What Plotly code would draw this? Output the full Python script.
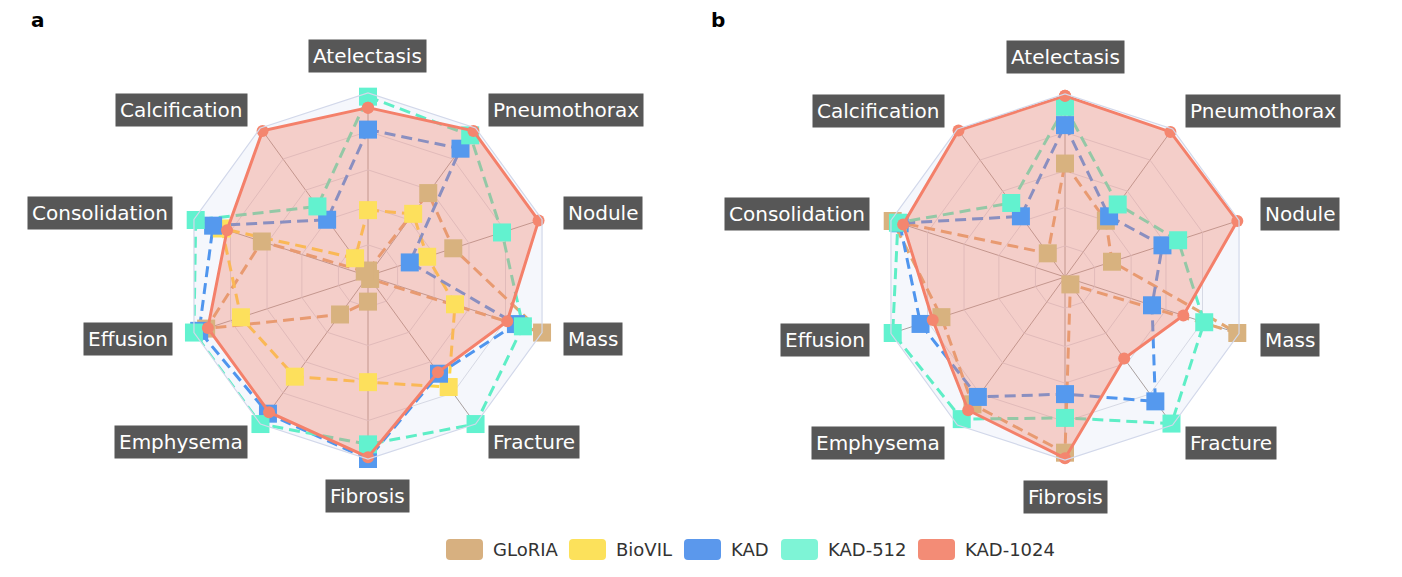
import plotly.graph_objects as go
import math

# ---------------- data ----------------
categories = ["Atelectasis", "Pneumothorax", "Nodule", "Mass", "Fracture",
              "Fibrosis", "Emphysema", "Effusion", "Consolidation", "Calcification"]
models = ["GLoRIA", "BioVIL", "KAD", "KAD-512", "KAD-1024"]

# panel a (normalised radial score, 0 = centre, 1 = outer ring)
a_gloria = [0.03, 0.56, 0.49, 1.00, 0.02, 0.14, 0.26, 0.93, 0.61, 0.03]
a_biovil = [0.36, 0.42, 0.34, 0.50, 0.75, 0.58, 0.68, 0.73, 0.84, 0.12]
a_kad = [0.80, 0.86, 0.24, 0.85, 0.66, 1.00, 0.93, 0.97, 0.89, 0.38]
a_kad512 = [0.98, 0.95, 0.77, 0.89, 1.00, 0.92, 1.00, 1.00, 0.99, 0.47]
a_kad1024 = [0.92, 0.98, 0.98, 0.80, 0.65, 0.99, 0.92, 0.92, 0.81, 0.98]

# panel b
b_gloria = [0.62, 0.38, 0.27, 0.99, 0.05, 0.96, 0.86, 0.71, 0.99, 0.16]
b_kad = [0.83, 0.41, 0.56, 0.50, 0.84, 0.64, 0.81, 0.83, 0.95, 0.41]
b_kad512 = [0.93, 0.49, 0.65, 0.80, 0.99, 0.77, 0.96, 0.99, 0.96, 0.50]
b_kad1024 = [0.99, 0.98, 0.99, 0.68, 0.55, 0.99, 0.90, 0.76, 0.93, 0.99]

# ---------------- style ----------------
PAGE_MARGIN = 8                      # browser default body margin
W, H = 1402 - 2 * PAGE_MARGIN, 577 - 2 * PAGE_MARGIN
R = 183
marker_col = {"GLoRIA": "#d8b27f", "BioVIL": "#fde05c", "KAD": "#5599ee",
              "KAD-512": "#62f2cf", "KAD-1024": "#f4866f"}
line_col = {"GLoRIA": "#e2a772", "BioVIL": "#fdd548", "KAD": "#4f95ee",
            "KAD-512": "#5eeec6", "KAD-1024": "#f4806a"}
legend_col = {"GLoRIA": "#d7b080", "BioVIL": "#fce15b", "KAD": "#5b98ec",
              "KAD-512": "#7ef4d6", "KAD-1024": "#f38c76"}
FONT = "DejaVu Sans"


def PX(x):
    return (x - PAGE_MARGIN) / W


def PY(y):
    return 1 - (y - PAGE_MARGIN) / H


fig = go.Figure()


def closed(v):
    return list(v) + [v[0]]


def add_panel(subplot, series):
    thetas = closed(categories)
    for name, vals in series:
        if name == "KAD-1024":
            continue
        fig.add_trace(go.Scatterpolar(
            r=closed(vals), theta=thetas, mode="lines", subplot=subplot,
            line=dict(color=line_col[name], width=3, dash="11px,6px"),
            showlegend=False, hoverinfo="skip", cliponaxis=False))
    for name, vals in series:
        if name == "KAD-1024":
            fig.add_trace(go.Scatterpolar(
                r=closed(vals), theta=thetas, mode="lines", subplot=subplot,
                fill="toself", fillcolor="rgba(244,134,111,0.36)",
                line=dict(width=0, color="rgba(0,0,0,0)"),
                showlegend=False, hoverinfo="skip", cliponaxis=False))
    for name, vals in series:
        if name == "KAD-1024":
            continue
        fig.add_trace(go.Scatterpolar(
            r=list(vals), theta=categories, mode="markers", subplot=subplot,
            marker=dict(symbol="square", size=18, color=marker_col[name],
                        line=dict(width=0)),
            name=name, showlegend=False, cliponaxis=False))
    for name, vals in series:
        if name == "KAD-1024":
            fig.add_trace(go.Scatterpolar(
                r=closed(vals), theta=thetas, mode="lines+markers",
                subplot=subplot,
                line=dict(color=line_col[name], width=3),
                marker=dict(symbol="circle", size=12, color=marker_col[name],
                            line=dict(width=0)),
                name=name, showlegend=False, cliponaxis=False))


add_panel("polar", [("GLoRIA", a_gloria), ("BioVIL", a_biovil), ("KAD", a_kad),
                    ("KAD-512", a_kad512), ("KAD-1024", a_kad1024)])
add_panel("polar2", [("GLoRIA", b_gloria), ("KAD", b_kad),
                     ("KAD-512", b_kad512), ("KAD-1024", b_kad1024)])

centers = [(368, 276), (1065, 277)]


def polar_cfg(cx, cy):
    return dict(
        domain=dict(x=[PX(cx - R), PX(cx + R)],
                    y=[PY(cy + R), PY(cy - R)]),
        bgcolor="#f5f7fc",
        gridshape="linear",
        radialaxis=dict(range=[0, 1], tickvals=[0.17, 0.38, 0.58, 0.79],
                        showticklabels=False, ticks="", showline=False,
                        gridcolor="#d6d9e4", gridwidth=1),
        angularaxis=dict(rotation=90, direction="clockwise",
                         categoryorder="array", categoryarray=categories,
                         showticklabels=False, ticks="",
                         gridcolor="#a8a09f", gridwidth=1,
                         showline=True, linecolor="#d2d8ea", linewidth=1.2),
    )


annotations = []
for (cx, cy) in centers:
    for k, cat in enumerate(categories):
        ang = math.radians(90 - 36 * k)
        c, s = math.cos(ang), math.sin(ang)
        if abs(c) < 0.1:
            px, py, xa = cx, cy - 220 * s, "center"
        else:
            px, py = cx + 205 * c, cy - 205 * s
            xa = "left" if c > 0 else "right"
        annotations.append(dict(
            x=PX(px), y=PY(py), xref="paper", yref="paper",
            text=cat, showarrow=False, xanchor=xa, yanchor="middle",
            font=dict(family=FONT, size=20, color="white"),
            bgcolor="#575757", borderpad=4))

for letter, px in (("a", 38), ("b", 718)):
    annotations.append(dict(
        x=PX(px), y=PY(20), xref="paper", yref="paper",
        text="<b>%s</b>" % letter, showarrow=False,
        xanchor="center", yanchor="middle",
        font=dict(family=FONT, size=20, color="black")))

# custom legend: rounded swatches + labels
legend_start = [446, 569, 684, 781, 918]
shapes = []
sw, sh, ly, rad = 37, 21, 549.5, 4
for name, x0 in zip(models, legend_start):
    x1 = x0 + sw
    y0, y1 = ly - sh / 2, ly + sh / 2

    def P(x, y):
        return "%.5f,%.5f" % (PX(x), PY(y))
    path = ("M " + P(x0 + rad, y0) + " L " + P(x1 - rad, y0) +
            " Q " + P(x1, y0) + " " + P(x1, y0 + rad) +
            " L " + P(x1, y1 - rad) + " Q " + P(x1, y1) + " " + P(x1 - rad, y1) +
            " L " + P(x0 + rad, y1) + " Q " + P(x0, y1) + " " + P(x0, y1 - rad) +
            " L " + P(x0, y0 + rad) + " Q " + P(x0, y0) + " " + P(x0 + rad, y0) + " Z")
    shapes.append(dict(type="path", path=path, xref="paper", yref="paper",
                       fillcolor=legend_col[name], line=dict(width=0)))
    annotations.append(dict(
        x=PX(x1 + 8), y=PY(ly), xref="paper", yref="paper",
        text=name, showarrow=False, xanchor="left", yanchor="middle",
        font=dict(family=FONT, size=18, color="#333333")))

fig.update_layout(
    width=W, height=H,
    margin=dict(l=0, r=0, t=0, b=0),
    paper_bgcolor="white", plot_bgcolor="white",
    polar=polar_cfg(*centers[0]),
    polar2=polar_cfg(*centers[1]),
    annotations=annotations,
    shapes=shapes,
    showlegend=False,
    font=dict(family=FONT),
)

fig.write_html("out.html")
